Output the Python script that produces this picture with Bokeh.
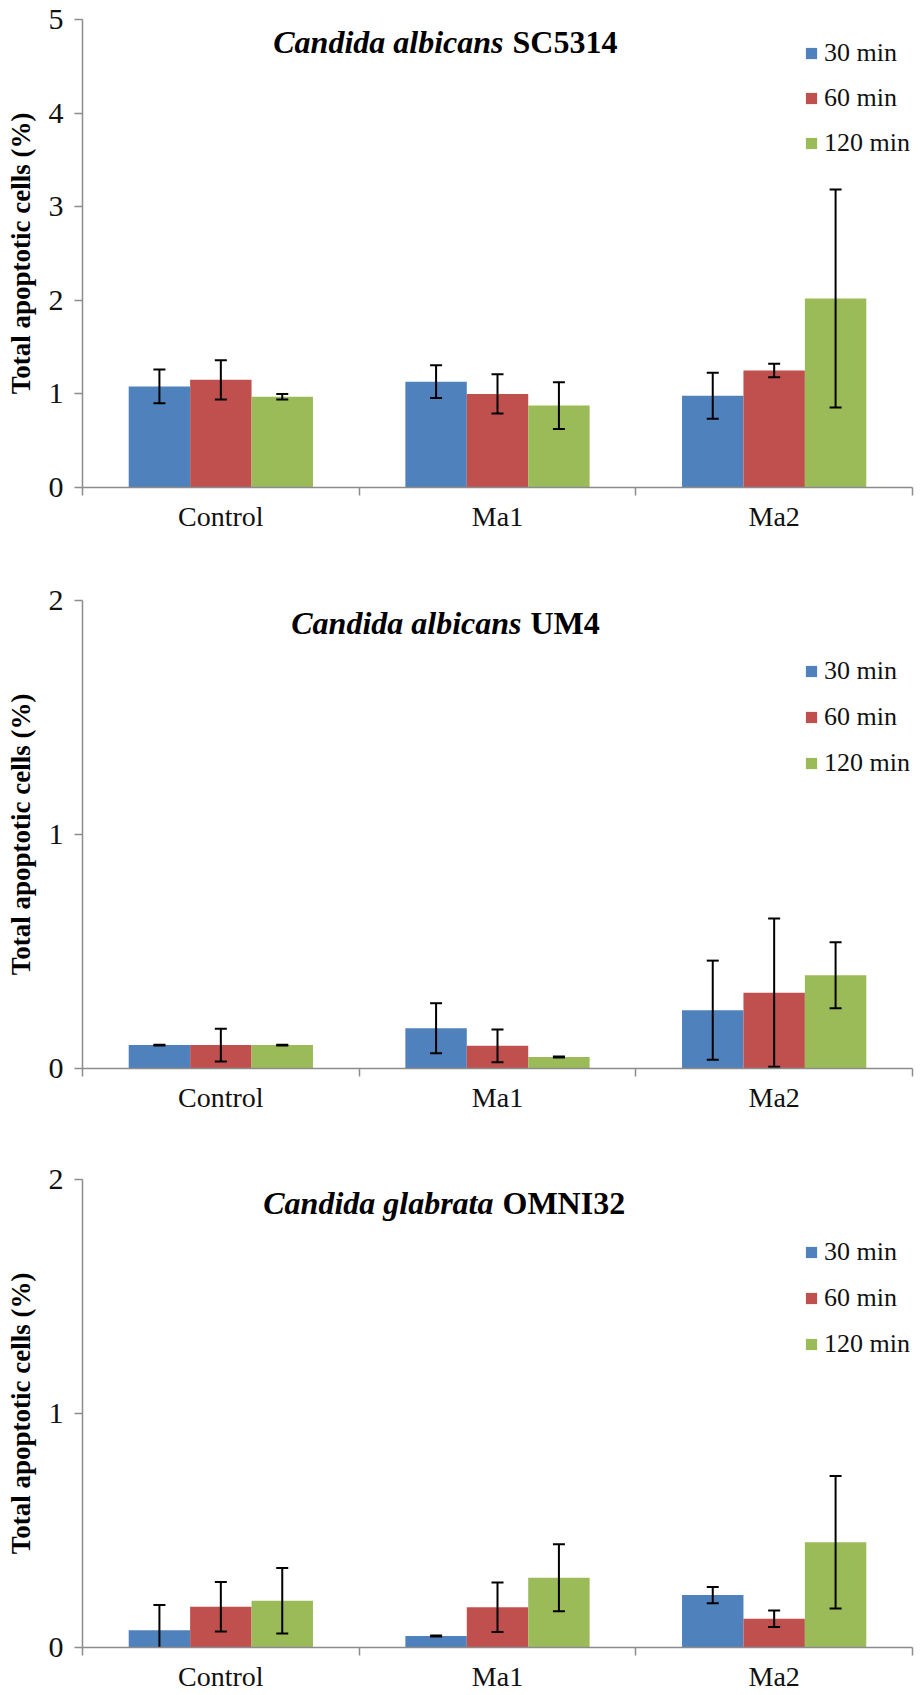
from bokeh.plotting import figure
from bokeh.models import (Range1d, FixedTicker, Legend, LegendItem, Label,
                          ColumnDataSource)
from bokeh.layouts import column
from bokeh.embed import file_html
from bokeh.resources import INLINE

# ---------------- data ----------------
categories = ["Control", "Ma1", "Ma2"]
times = ["30 min", "60 min", "120 min"]
colors = ["#4F81BD", "#C0504D", "#9BBB59"]

# rows = times (30, 60, 120 min); columns = categories
sc5314_mean = [[1.08, 1.13, 0.98], [1.15, 1.00, 1.25], [0.97, 0.875, 2.02]]
sc5314_err = [[0.18, 0.175, 0.245], [0.21, 0.21, 0.073], [0.03, 0.25, 1.165]]

um4_mean = [[0.10, 0.172, 0.249], [0.10, 0.097, 0.324], [0.10, 0.049, 0.398]]
um4_err = [[0.002, 0.107, 0.212], [0.07, 0.07, 0.317], [0.002, 0.002, 0.141]]

omni32_mean = [[0.074, 0.049, 0.224], [0.174, 0.172, 0.123], [0.200, 0.298, 0.450]]
omni32_err = [[0.108, 0.002, 0.035], [0.106, 0.106, 0.035], [0.140, 0.143, 0.283]]

yticks_sc5314 = [0, 1, 2, 3, 4, 5]
yticks_um4 = [0, 1, 2]
yticks_omni32 = [0, 1, 2]

y_label = "Total apoptotic cells (%)"

FONT = "Liberation Serif"
AXIS_GRAY = "#8c8c8c"
BAR_W = 0.222
FRAME_H = 468


def make_panel(species, strain, means, errs, yticks, border_top, border_bottom,
               split_x, title_dy, legend_top, legend_spacing):
    ymax = yticks[-1]
    height = border_top + FRAME_H + border_bottom
    p = figure(width=918, height=height, output_backend="svg",
               toolbar_location=None,
               x_range=Range1d(0, len(categories)),
               y_range=Range1d(0, ymax),
               min_border_left=82, min_border_right=6,
               min_border_top=border_top, min_border_bottom=border_bottom)
    p.outline_line_color = None
    p.xgrid.visible = False
    p.ygrid.visible = False
    p.background_fill_color = "white"
    p.border_fill_color = "white"

    renderers = []
    for j, t in enumerate(times):
        xs = [i + 0.5 + (j - 1) * BAR_W for i in range(len(categories))]
        m = means[j]
        e = errs[j]
        src = ColumnDataSource(dict(
            x=xs, top=m,
            upper=[a + b for a, b in zip(m, e)],
            lower=[a - b for a, b in zip(m, e)]))
        r = p.vbar(x="x", top="top", bottom=0, width=BAR_W, source=src,
                   fill_color=colors[j], line_color=None)
        renderers.append(r)
        p.segment(x0="x", y0="lower", x1="x", y1="upper", source=src,
                  line_color="black", line_width=2)
        p.scatter(x="x", y="upper", source=src, marker="dash", size=12,
                  line_color="black", line_width=2)
        p.scatter(x="x", y="lower", source=src, marker="dash", size=12,
                  line_color="black", line_width=2)

    # x axis: labels at category centres, tick marks at category boundaries
    xa = p.xaxis[0]
    centers = [i + 0.5 for i in range(len(categories))]
    xa.ticker = FixedTicker(ticks=centers,
                            minor_ticks=list(range(len(categories) + 1)))
    xa.major_label_overrides = {c: lab for c, lab in zip(centers, categories)}
    xa.major_tick_line_color = None
    xa.major_tick_out = 0
    xa.major_tick_in = 0
    xa.minor_tick_out = 8
    xa.minor_tick_in = 0
    xa.minor_tick_line_color = AXIS_GRAY
    xa.minor_tick_line_width = 1.5
    xa.axis_line_color = AXIS_GRAY
    xa.axis_line_width = 1.5
    xa.major_label_standoff = 5
    xa.major_label_text_font = FONT
    xa.major_label_text_font_size = "28px"
    xa.major_label_text_color = "#111111"

    # y axis
    ya = p.yaxis[0]
    ya.ticker = FixedTicker(ticks=yticks, minor_ticks=[])
    ya.major_tick_out = 8
    ya.major_tick_in = 0
    ya.minor_tick_out = 0
    ya.minor_tick_in = 0
    ya.major_tick_line_color = AXIS_GRAY
    ya.major_tick_line_width = 1.5
    ya.axis_line_color = AXIS_GRAY
    ya.axis_line_width = 1.5
    ya.major_label_standoff = 11
    ya.major_label_text_font = FONT
    ya.major_label_text_font_size = "30px"
    ya.major_label_text_color = "#111111"
    ya.axis_label = y_label
    ya.axis_label_text_font = FONT
    ya.axis_label_text_font_size = "27px"
    ya.axis_label_text_font_style = "bold"
    ya.axis_label_text_color = "black"
    ya.axis_label_standoff = 10

    # title (inside plot area, mixed styles)
    p.add_layout(Label(x=0, y=ymax, x_offset=split_x, y_offset=title_dy,
                       text=species, text_font=FONT,
                       text_font_style="bold italic", text_font_size="32px",
                       text_align="right", text_baseline="alphabetic",
                       text_color="black"))
    p.add_layout(Label(x=0, y=ymax, x_offset=split_x + 9, y_offset=title_dy,
                       text=strain, text_font=FONT,
                       text_font_style="bold", text_font_size="32px",
                       text_align="left", text_baseline="alphabetic",
                       text_color="black"))

    leg_h = 3 * 30 + 2 * legend_spacing
    legend = Legend(
        items=[LegendItem(label=t, renderers=[r]) for t, r in zip(times, renderers)],
        location=(722, FRAME_H - legend_top - leg_h),
        orientation="vertical",
        glyph_width=14, glyph_height=14, label_height=29,
        label_standoff=6, spacing=legend_spacing,
        padding=0, margin=0,
        border_line_color=None, background_fill_alpha=0,
        label_text_font=FONT, label_text_font_size="26px",
        label_text_color="#111111")
    p.add_layout(legend)
    return p


p1 = make_panel("Candida albicans", "SC5314", sc5314_mean, sc5314_err,
                yticks_sc5314, 19, 94, 421, -22.5, 19, 15)
p2 = make_panel("Candida albicans", "UM4", um4_mean, um4_err,
                yticks_um4, 19, 93, 439, -22, 56, 16)
p3 = make_panel("Candida glabrata", "OMNI32", omni32_mean, omni32_err,
                yticks_omni32, 18, 47, 411, -23, 58, 16)

layout = column(p1, p2, p3, spacing=0)

open("out.html", "w").write(file_html(layout, INLINE))
